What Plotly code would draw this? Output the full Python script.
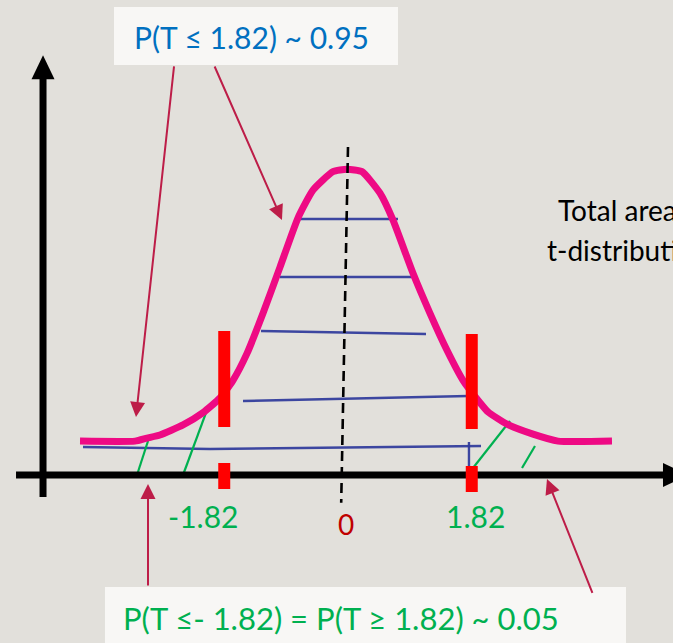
import plotly.graph_objects as go

# Critical value of the t-distribution used in the diagram
T_CRIT = 1.82

# Sketched t-density curve (t value, height)
curve_t = [-3.941, -3.132, -2.956, -2.765, -2.426, -2.132, -1.882, -1.691, -1.485,
           -1.250, -1.000, -0.735, -0.515, -0.221, -0.015, 0.206, 0.471, 0.662,
           0.956, 1.206, 1.456, 1.691, 1.941, 2.059, 2.338, 2.721, 3.088, 3.882]
curve_y = [0.044, 0.044, 0.048, 0.052, 0.065, 0.081, 0.100, 0.123, 0.158,
           0.210, 0.270, 0.334, 0.370, 0.394, 0.397, 0.394, 0.366, 0.331,
           0.262, 0.210, 0.162, 0.123, 0.094, 0.082, 0.066, 0.053, 0.044, 0.044]

# Blue hand-drawn hatching of the central 0.95 area
hatch_blue_t = [[-0.735, 0.735], [-1.000, 0.941], [-1.279, 1.147],
                [-1.544, 1.765], [-3.897, -2.029, 1.956], [1.779, 1.779]]
hatch_blue_y = [[0.3325, 0.3325], [0.2571, 0.2571], [0.1870, 0.1831],
                [0.0961, 0.1026], [0.0364, 0.0338, 0.0377], [0.0429, 0.0065]]

# Green hatching of the two tails
hatch_green_t = [[-3.103, -2.941], [-2.426, -2.074], [1.838, 2.382], [2.559, 2.750]]
hatch_green_y = [[0.0, 0.0442], [0.0, 0.0844], [0.0091, 0.0701], [0.0091, 0.0377]]

# Tick labels on the t axis
tick_values = [-T_CRIT, 0, T_CRIT]
tick_labels = ["-1.82", "0", "1.82"]

top_text = "P(T ≤ 1.82) ~ 0.95"
bottom_text = "P(T ≤- 1.82) = P(T ≥ 1.82) ~ 0.05"
side_lines = ["Total area under the", "t-distribution curve = 1"]

FONT = "Lato"
PINK = "#ee0a84"
BLUE = "#2f3a9c"
GREEN = "#00b050"
CRIMSON = "#bd1d48"
RED = "#ff0000"

PX = 1 / 68.0    # one screen pixel in t units
PY = 1 / 770.0   # one screen pixel in height units

fig = go.Figure()

# hatching
for xs, ys in zip(hatch_blue_t, hatch_blue_y):
    fig.add_trace(go.Scatter(x=xs, y=ys, mode="lines",
                             line=dict(color=BLUE, width=2.4),
                             opacity=0.92, hoverinfo="skip"))
for xs, ys in zip(hatch_green_t, hatch_green_y):
    fig.add_trace(go.Scatter(x=xs, y=ys, mode="lines",
                             line=dict(color=GREEN, width=2.2),
                             hoverinfo="skip"))

# density curve
fig.add_trace(go.Scatter(x=curve_t, y=curve_y, mode="lines",
                         line=dict(color=PINK, width=7, shape="spline", smoothing=0.5),
                         hoverinfo="skip"))

shapes = []

# centre line at t = 0
shapes.append(dict(type="line", xref="x", yref="y", x0=0, x1=-0.1,
                   y0=0.426, y1=-0.036,
                   line=dict(color="black", width=2.6, dash="10px,6px")))

# axes
ax_x = -4.485
shapes.append(dict(type="line", xref="x", yref="y", x0=-4.882, x1=4.65, y0=0, y1=0,
                   line=dict(color="black", width=7)))
shapes.append(dict(type="line", xref="x", yref="y", x0=ax_x, x1=ax_x, y0=-0.0286, y1=0.52,
                   line=dict(color="black", width=7)))
shapes.append(dict(type="path", xref="x", yref="y",
                   path=f"M {ax_x - 11.5*PX},0.514 L {ax_x + 11.5*PX},0.514 L {ax_x},0.545 Z",
                   fillcolor="black", line=dict(width=0)))
shapes.append(dict(type="path", xref="x", yref="y",
                   path=f"M 4.632,{-12*PY} L 4.632,{12*PY} L 5.0,0 Z",
                   fillcolor="black", line=dict(width=0)))

# critical value markers
for sgn in (-1, 1):
    xc = sgn * T_CRIT
    big = (0.0623, 0.187) if sgn < 0 else (0.0597, 0.1831)
    small = (-0.0182, 0.0156) if sgn < 0 else (-0.0221, 0.0117)
    for y0, y1 in (big, small):
        shapes.append(dict(type="line", xref="x", yref="y", x0=xc, x1=xc, y0=y0, y1=y1,
                           line=dict(color=RED, width=12)))

# text boxes
shapes.append(dict(type="rect", xref="x", yref="y", x0=-3.441, x1=0.735, y0=0.5325, y1=0.6078,
                   fillcolor="#f8f7f5", line=dict(width=0), layer="below"))
shapes.append(dict(type="rect", xref="x", yref="y", x0=-3.574, x1=4.088, y0=-0.23, y1=-0.1455,
                   fillcolor="#f8f7f5", line=dict(width=0), layer="below"))

annotations = []

def arrow(tail, tip):
    annotations.append(dict(x=tip[0], y=tip[1], ax=tail[0], ay=tail[1],
                            xref="x", yref="y", axref="x", ayref="y", text="",
                            showarrow=True, arrowhead=2, arrowsize=1.5, arrowwidth=2,
                            arrowcolor=CRIMSON, standoff=0, startstandoff=0))

arrow((-2.556, 0.5325), (-3.118, 0.0753))
arrow((-1.971, 0.5325), (-0.971, 0.3312))
arrow((-2.941, -0.1455), (-2.941, -0.0117))
arrow((3.603, -0.155), (2.926, -0.0052))

annotations.append(dict(x=-1.412, y=0.5688, xref="x", yref="y", text=top_text,
                        showarrow=False, font=dict(family=FONT, size=30, color="#0070c0")))
annotations.append(dict(x=-0.103, y=-0.1857, xref="x", yref="y", text=bottom_text,
                        showarrow=False, font=dict(family=FONT, size=31, color=GREEN)))
annotations.append(dict(x=3.059, y=0.344, xref="x", yref="y", text=side_lines[0],
                        xanchor="left", showarrow=False,
                        font=dict(family=FONT, size=28, color="black")))
annotations.append(dict(x=2.897, y=0.292, xref="x", yref="y", text=side_lines[1],
                        xanchor="left", showarrow=False,
                        font=dict(family=FONT, size=28, color="black")))

label_pos = {"-1.82": (-2.132, -0.0532, GREEN, 30),
             "0": (-0.03, -0.0636, "#c00000", 28),
             "1.82": (1.882, -0.0532, GREEN, 30)}
for v, lab in zip(tick_values, tick_labels):
    lx, ly, col, sz = label_pos[lab]
    annotations.append(dict(x=lx, y=ly, xref="x", yref="y", text=lab, showarrow=False,
                            font=dict(family=FONT, size=sz, color=col)))

fig.update_layout(
    width=673, height=643,
    margin=dict(l=0, r=0, t=0, b=0),
    paper_bgcolor="#e2e0db", plot_bgcolor="#e2e0db",
    showlegend=False,
    xaxis=dict(range=[-348 / 68, 325 / 68], visible=False, fixedrange=True),
    yaxis=dict(range=[-168 / 770, 475 / 770], visible=False, fixedrange=True),
    shapes=shapes, annotations=annotations,
)

fig.write_html("out.html")
